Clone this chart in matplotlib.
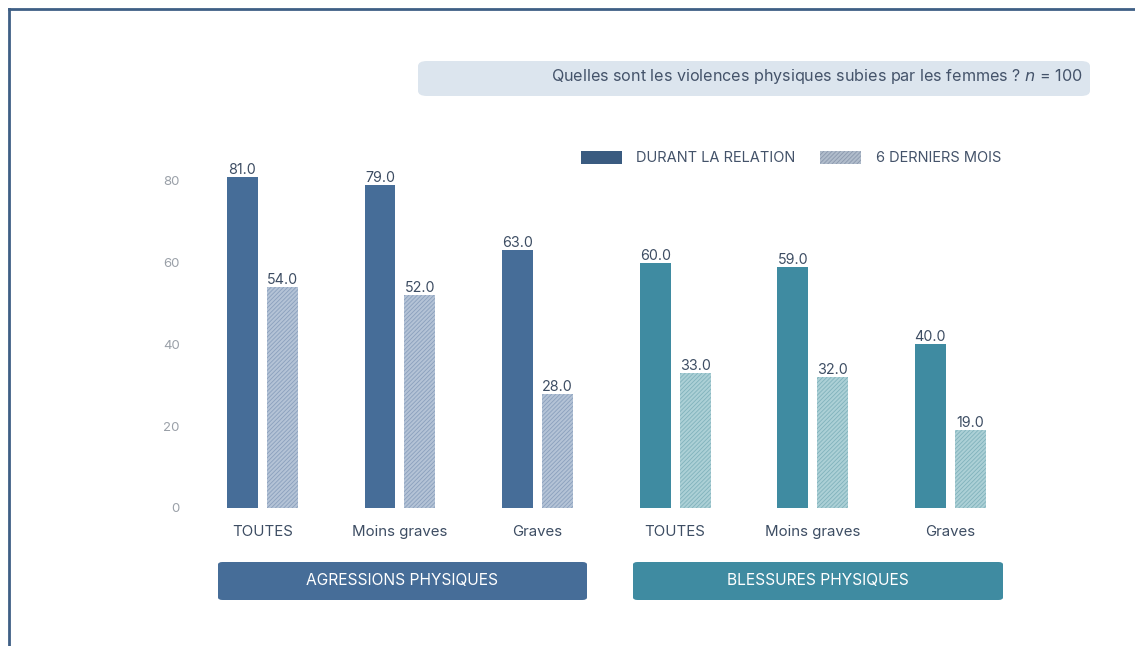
import numpy as np
import matplotlib.pyplot as plt
from matplotlib.patches import FancyBboxPatch, Rectangle
from matplotlib.lines import Line2D

plt.rcParams['font.family'] = ['Inter', 'DejaVu Sans']
plt.rcParams['hatch.linewidth'] = 0.6

# donnees
categories = ["TOUTES", "Moins graves", "Graves", "TOUTES", "Moins graves", "Graves"]
durant = [81.0, 79.0, 63.0, 60.0, 59.0, 40.0]
derniers = [54.0, 52.0, 28.0, 33.0, 32.0, 19.0]
groupes = ["AGRESSIONS PHYSIQUES", "BLESSURES PHYSIQUES"]
titre = "Quelles sont les violences physiques subies par les femmes ? $\\mathit{n}$ = 100"
legende = ["DURANT LA RELATION", "6 DERNIERS MOIS"]

W, H = 1135, 646
def fx(x):
    return x / W
def fy(y):
    return 1 - y / H

fonce = ["#466d98"] * 3 + ["#3f8ba1"] * 3
clair = ["#b4c3d6"] * 3 + ["#acd0d6"] * 3
hach = ["#8aa0bd"] * 3 + ["#80b2bc"] * 3
texte = "#3d4d63"

fig = plt.figure(figsize=(11.35, 6.46), dpi=100)
fig.patch.set_facecolor("white")

# axe: x de 195 a 1019 px, y=0 a 508 px
ax = fig.add_axes([fx(195), fy(508), fx(1019) - fx(195), (508 - 140) / H])
x = np.arange(len(categories))
w = 0.225
b1 = ax.bar(x - 0.145, durant, w, color=fonce, linewidth=0)
b2 = ax.bar(x + 0.145, derniers, w, color=clair, edgecolor=hach, hatch="////////", linewidth=0)
ax.bar_label(b1, fmt="%.1f", padding=0, fontsize=10.3, color=texte)
ax.bar_label(b2, fmt="%.1f", padding=0, fontsize=10.3, color=texte)

ax.set_xlim(-0.49, 5.5)
ax.set_ylim(0, 90)
ax.set_yticks([0, 20, 40, 60, 80])
ax.set_xticks(x)
ax.set_xticklabels(categories, fontsize=10.8, color=texte)
ax.tick_params(axis='x', length=0, pad=12)
ax.tick_params(axis='y', length=0, pad=11, labelsize=9.5, labelcolor="#9aa0a8")
for s in ax.spines.values():
    s.set_visible(False)

# cadre
fig.add_artist(Line2D([fx(9), fx(W)], [fy(9), fy(9)], color="#3f5f85", lw=2))
fig.add_artist(Line2D([fx(9), fx(9)], [fy(9), 0], color="#3f5f85", lw=2))

# titre
fig.add_artist(FancyBboxPatch((fx(418), fy(96)), fx(1090) - fx(418), (96 - 61) / H,
                              boxstyle="round,pad=0,rounding_size=0.008",
                              facecolor="#dce5ee", edgecolor="none"))
fig.text(fx(1082), fy(77), titre, ha="right", va="center", fontsize=11.6, color="#44536a")

# legende
fig.add_artist(Rectangle((fx(581), fy(164)), fx(41), 13 / H, facecolor="#3a5b80", linewidth=0))
fig.text(fx(636), fy(158), legende[0], ha="left", va="center", fontsize=10.5, color="#44536a")
fig.add_artist(Rectangle((fx(820), fy(164)), fx(41), 13 / H, facecolor="#b0bccb",
                         edgecolor="#8a98ad", hatch="////////", linewidth=0))
fig.text(fx(876), fy(158), legende[1], ha="left", va="center", fontsize=10.5, color="#44536a")

# bandeaux de groupe
for (x0, x1), nom, c in zip([(218, 587), (633, 1003)], groupes, ["#466d98", "#3f8ba1"]):
    fig.add_artist(FancyBboxPatch((fx(x0), fy(600)), fx(x1) - fx(x0), 38 / H,
                                  boxstyle="round,pad=0,rounding_size=0.004",
                                  facecolor=c, edgecolor="none"))
    fig.text(fx((x0 + x1) / 2), fy(581), nom, ha="center", va="center", fontsize=11.2, color="white")

fig.savefig("out.png", dpi=100)
